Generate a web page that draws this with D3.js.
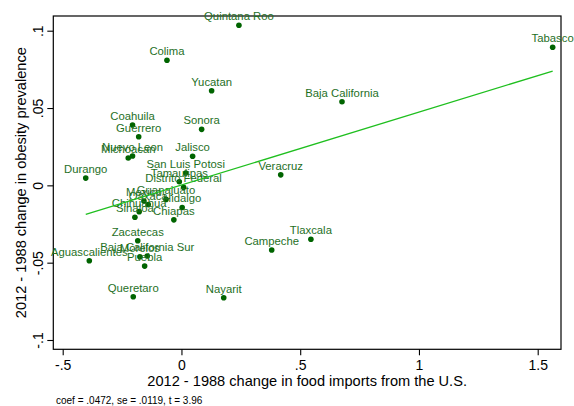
<!DOCTYPE html>
<html><head><meta charset="utf-8">
<script src="https://cdn.jsdelivr.net/npm/d3@7"></script>
<style>
body{margin:0;background:#fff;}
svg text{font-family:"Liberation Sans",Arial,Helvetica,sans-serif;}
</style>
</head><body>
<svg id="c" width="574" height="406"></svg>
<script>
const states = ["Quintana Roo","Colima","Yucatan","Coahuila","Sonora","Guerrero","Jalisco","Nuevo Leon","Michoacan","Durango","Veracruz","San Luis Potosi","Tamaulipas","Distrito Federal","Guanajuato","Mexico","Oaxaca","Hidalgo","Chihuahua","Sinaloa","Chiapas","Zacatecas","Baja California Sur","Morelos","Puebla","Aguascalientes","Queretaro","Nayarit","Campeche","Tlaxcala","Baja California","Tabasco"];
const importChange = [0.242,-0.061,0.127,-0.206,0.085,-0.180,0.047,-0.206,-0.224,-0.403,0.418,0.018,-0.009,0.009,-0.065,-0.158,-0.140,0.003,-0.178,-0.196,-0.032,-0.184,-0.144,-0.175,-0.155,-0.388,-0.203,0.178,0.380,0.545,0.676,1.563];
const obesityChange = [0.1035,0.0809,0.0612,0.0390,0.0362,0.0314,0.0188,0.0190,0.0177,0.0047,0.0068,0.0080,0.0023,-0.0013,-0.0091,-0.0101,-0.0124,-0.0143,-0.0170,-0.0206,-0.0223,-0.0358,-0.0457,-0.0462,-0.0522,-0.0488,-0.0720,-0.0727,-0.0418,-0.0349,0.0541,0.0893];
const xTickValues = [-0.5,0,0.5,1,1.5];
const xTickLabels = ["-.5","0",".5","1","1.5"];
const yTickValues = [-0.1,-0.05,0,0.05,0.1];
const yTickLabels = ["-.1","-.05","0",".05",".1"];
const fitX = [-0.403,1.563];
const fitY = [-0.0188,0.0739];
const xTitle = "2012 - 1988 change in food imports from the U.S.";
const yTitle = "2012 - 1988 change in obesity prevalence";
const note = "coef = .0472, se = .0119, t = 3.96";

const svg = d3.select("#c");
const L = 53.3, R = 561, T = 16, B = 349.3;
const x = d3.scaleLinear().domain([-0.5,1.5]).range([62.7,537.7]);
const y = d3.scaleLinear().domain([-0.1,0.1]).range([340,30.7]);

// frame
svg.append("rect").attr("x",L).attr("y",T).attr("width",R-L).attr("height",B-T)
  .attr("fill","none").attr("stroke","#000").attr("stroke-width",1.2);

// x axis
const gx = svg.append("g").attr("transform",`translate(0,${B})`)
  .call(d3.axisBottom(x).tickValues(xTickValues).tickFormat((d,i)=>xTickLabels[i]).tickSize(6).tickPadding(5));
gx.select(".domain").remove();
gx.selectAll("line").attr("stroke","#000").attr("stroke-width",1.1);
gx.selectAll("text").attr("font-size",14).attr("fill","#000").style("font-family",'"Liberation Sans",Arial,sans-serif');

// y axis
const gy = svg.append("g").attr("transform",`translate(${L},0)`)
  .call(d3.axisLeft(y).tickValues(yTickValues).tickFormat((d,i)=>yTickLabels[i]).tickSize(6));
gy.select(".domain").remove();
gy.selectAll("line").attr("stroke","#000").attr("stroke-width",1.1);
gy.selectAll("text").attr("font-size",14).attr("fill","#000")
  .style("font-family",'"Liberation Sans",Arial,sans-serif')
  .attr("transform","rotate(-90)").attr("x",0).attr("y",-10.6).attr("dy",0)
  .attr("text-anchor","middle");

// titles
svg.append("text").attr("x",(L+R)/2).attr("y",385.7).attr("text-anchor","middle")
  .attr("font-size",14.6).attr("fill","#000").text(xTitle);
svg.append("text").attr("transform",`translate(26,${(T+B)/2}) rotate(-90)`)
  .attr("text-anchor","middle").attr("font-size",14.6).attr("fill","#000").text(yTitle);
svg.append("text").attr("x",56).attr("y",403.5).attr("font-size",10).attr("fill","#000").text(note);

// points
const data = states.map((s,i)=>({s, xv: importChange[i], yv: obesityChange[i]}));
svg.append("g").selectAll("circle").data(data).join("circle")
  .attr("cx",d=>x(d.xv)).attr("cy",d=>y(d.yv)).attr("r",2.8).attr("fill","#006400");
svg.append("g").selectAll("text").data(data).join("text")
  .attr("x",d=>x(d.xv)).attr("y",d=>y(d.yv)-5).attr("text-anchor","middle")
  .attr("font-size",11.3).attr("fill","#1f701f").text(d=>d.s);

// fit line
svg.append("path").datum(fitX.map((v,i)=>[v,fitY[i]]))
  .attr("d",d3.line().x(d=>x(d[0])).y(d=>y(d[1])))
  .attr("fill","none").attr("stroke","#1fbf1f").attr("stroke-width",1.3);
</script>
</body></html>
